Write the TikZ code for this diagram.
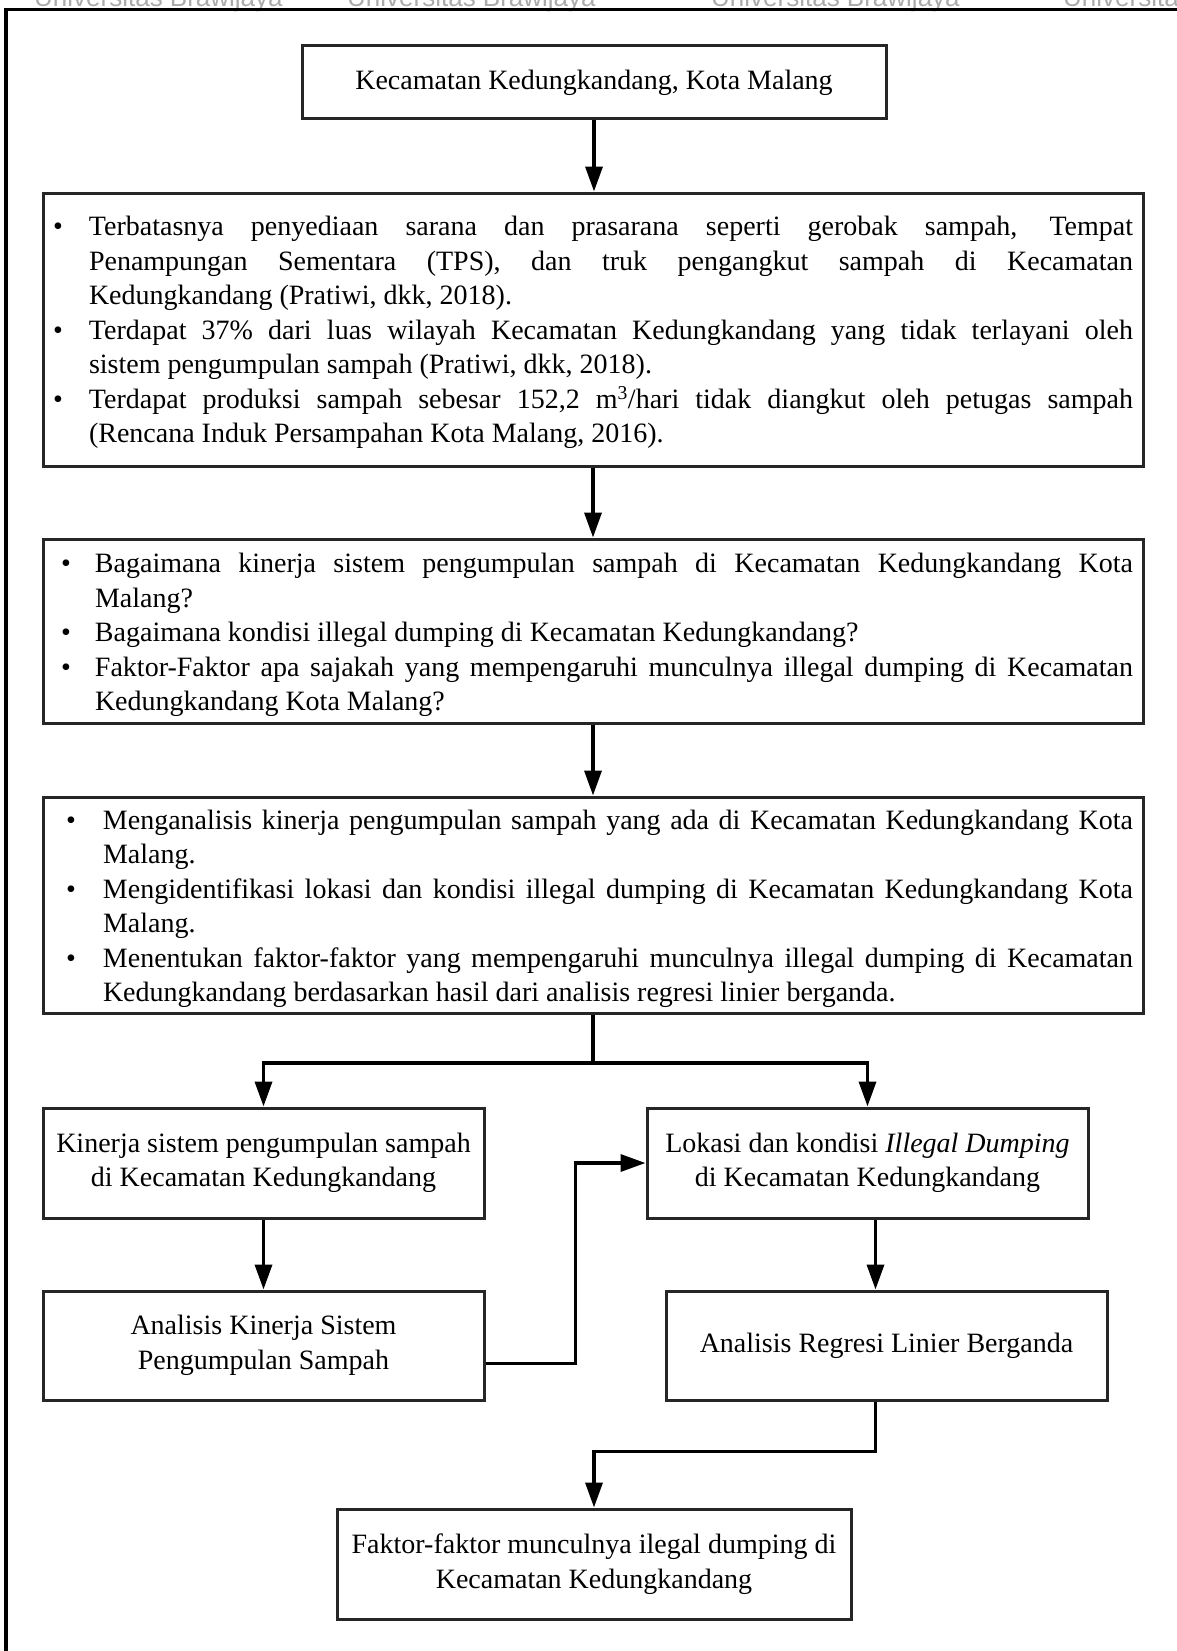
\documentclass[tikz,border=0pt]{standalone}
\usepackage{fontspec}
\setmainfont{Liberation Serif}
\newfontfamily\wmfont{Liberation Sans}
\usetikzlibrary{arrows.meta}

% bulleted, justified lists inside the wide boxes: every line is set explicitly
\newlength\listw
\setlength\listw{1080pt}
\newlength\bulloff
\newlength\bullind
\newcommand\setbullets[2]{\setlength\bulloff{#1}\setlength\bullind{#2}}
\newcommand\bulletmark{\hbox to \bullind{\hskip\bulloff\textbullet\hss}}
\newcommand\itemjust[1]{\hbox to \listw{\bulletmark\hbox to \dimexpr\listw-\bullind\relax{#1}}}
\newcommand\itemrag[1]{\hbox to \listw{\bulletmark\hbox to \dimexpr\listw-\bullind\relax{#1\hfil}}}
\newcommand\contjust[1]{\hbox to \listw{\hskip\bullind\hbox to \dimexpr\listw-\bullind\relax{#1}}}
\newcommand\contrag[1]{\hbox to \listw{\hskip\bullind\hbox to \dimexpr\listw-\bullind\relax{#1\hfil}}}

\begin{document}
\begin{tikzpicture}[x=1pt,y=-1pt,
  font=\fontsize{28}{34.5}\selectfont,
  box/.style={draw=black!85, line width=3pt, rectangle, inner sep=0pt},
  listbox/.style={box, minimum width=1100pt},
  smallbox/.style={box, align=center, minimum width=441pt, minimum height=110pt},
  link/.style={line width=3.5pt, draw=black},
  arr/.style={link, -{Triangle[length=25pt,width=17pt]}},
  watermark/.style={font=\wmfont\fontsize{26}{30}\selectfont, text=black!33, inner sep=0pt, anchor=base west}]

\useasboundingbox (0,0) rectangle (1177,1651);
\fill[white] (0,0) rectangle (1177,1651);

% header strip
\begin{scope}
  \clip (0,0) rectangle (1177,1651);
  \node[watermark] (wm1) at (34,7)   {Universitas Brawijaya};
  \node[watermark] (wm2) at (347,7)  {Universitas Brawijaya};
  \node[watermark] (wm3) at (711,7)  {Universitas Brawijaya};
  \node[watermark] (wm4) at (1063,7) {Universitas Brawijaya};
\end{scope}

% page frame
\draw[line width=3.5pt] (6,1660) -- (6,9.5) -- (1185,9.5);

% boxes
\node[box, minimum width=584pt, minimum height=73pt] (b1) at (594,82.5)
  {Kecamatan Kedungkandang, Kota Malang};

\node[listbox, minimum height=273pt] (b2) at (593,329.5) {\vbox{\vskip6pt\setbullets{0pt}{36pt}%
  \itemjust{Terbatasnya penyediaan sarana dan prasarana seperti gerobak sampah, Tempat}
  \contjust{Penampungan Sementara (TPS), dan truk pengangkut sampah di Kecamatan}
  \contrag{Kedungkandang (Pratiwi, dkk, 2018).}
  \itemjust{Terdapat 37\% dari luas wilayah Kecamatan Kedungkandang yang tidak terlayani oleh}
  \contrag{sistem pengumpulan sampah (Pratiwi, dkk, 2018).}
  \itemjust{Terdapat produksi sampah sebesar 152,2 m\textsuperscript{3}/hari tidak diangkut oleh petugas sampah}
  \contrag{(Rencana Induk Persampahan Kota Malang, 2016).}}};

\node[listbox, minimum height=184pt] (b3) at (593,631) {\vbox{\vskip8pt\setbullets{8pt}{42pt}%
  \itemjust{Bagaimana kinerja sistem pengumpulan sampah di Kecamatan Kedungkandang Kota}
  \contrag{Malang?}
  \itemrag{Bagaimana kondisi illegal dumping di Kecamatan Kedungkandang?}
  \itemjust{Faktor-Faktor apa sajakah yang mempengaruhi munculnya illegal dumping di Kecamatan}
  \contrag{Kedungkandang Kota Malang?}}};

\node[listbox, minimum height=216pt] (b4) at (593,905) {\vbox{\vskip8pt\setbullets{13pt}{50pt}%
  \itemjust{Menganalisis kinerja pengumpulan sampah yang ada di Kecamatan Kedungkandang Kota}
  \contrag{Malang.}
  \itemjust{Mengidentifikasi lokasi dan kondisi illegal dumping di Kecamatan Kedungkandang Kota}
  \contrag{Malang.}
  \itemjust{Menentukan faktor-faktor yang mempengaruhi munculnya illegal dumping di Kecamatan}
  \contrag{Kedungkandang berdasarkan hasil dari analisis regresi linier berganda.}}};

\node[smallbox] (b5) at (263.5,1163)
  {Kinerja sistem pengumpulan sampah\\ di Kecamatan Kedungkandang};
\node[smallbox] (b6) at (867.5,1163)
  {Lokasi dan kondisi \textit{Illegal Dumping}\\ di Kecamatan Kedungkandang};
\node[smallbox, minimum height=109pt] (b7) at (263.5,1345.5)
  {Analisis Kinerja Sistem\\ Pengumpulan Sampah};
\node[smallbox, minimum height=109pt] (b8) at (886.5,1345.5)
  {Analisis Regresi Linier Berganda};
\node[smallbox, minimum width=514pt] (b9) at (594,1564)
  {Faktor-faktor munculnya ilegal dumping di\\ Kecamatan Kedungkandang};

% connectors
\coordinate (split) at (594,1063);
\draw[arr] (b1.south) -- (b1.south |- b2.north);
\draw[arr] (b2.south) -- (b2.south |- b3.north);
\draw[arr] (b3.south) -- (b3.south |- b4.north);
\draw[link] (b4.south) -- (b4.south |- split);
\draw[arr] (split) -| (b5.north);
\draw[arr] (split) -| (b6.north);
\draw[arr] (b5.south) -- (b7.north);
\draw[arr] ([xshift=8pt]b6.south) -- ([xshift=8pt]b6.south |- b8.north);
\draw[arr] ([yshift=-18pt]b7.east) -- ++(90,0) |- (b6.west);
\draw[arr] ([xshift=-11pt]b8.south) -- ++(0,50) -| (b9.north);
\end{tikzpicture}
\end{document}
